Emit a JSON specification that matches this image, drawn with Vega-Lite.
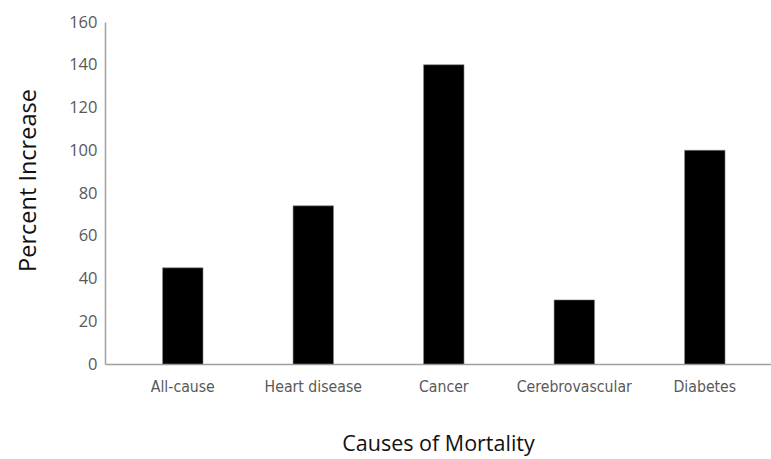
{
  "$schema": "https://vega.github.io/schema/vega-lite/v6.json",
  "autosize": "none",
  "padding": {"left": 105, "top": 22, "right": 0, "bottom": 95},
  "width": 666,
  "height": 342,
  "background": "white",
  "data": {"values": [
    {"cause": "All-cause", "pct": 45},
    {"cause": "Heart disease", "pct": 74},
    {"cause": "Cancer", "pct": 140},
    {"cause": "Cerebrovascular", "pct": 30},
    {"cause": "Diabetes", "pct": 100}
  ]},
  "mark": {"type": "bar", "color": "black", "stroke": "#888888", "strokeWidth": 0.6},
  "encoding": {
    "x": {
      "field": "cause", "type": "nominal", "sort": null,
      "scale": {"paddingInner": 0.69, "paddingOuter": 0.3966, "align": 0.556},
      "axis": {
        "title": "Causes of Mortality", "labelAngle": 0, "ticks": false,
        "domainColor": "#a0a0a0", "domainWidth": 1.5,
        "labelFont": "DejaVu Sans Condensed", "labelFontSize": 15.7, "labelColor": "#595959",
        "labelPadding": 15,
        "titleFont": "Open Sans", "titleFontSize": 21.5, "titleFontWeight": "normal", "titleColor": "#111111",
        "titlePadding": 40
      }
    },
    "y": {
      "field": "pct", "type": "quantitative",
      "scale": {"domain": [0, 160], "nice": false},
      "axis": {
        "title": "Percent Increase", "values": [0, 20, 40, 60, 80, 100, 120, 140, 160],
        "grid": false, "ticks": false,
        "domainColor": "#a0a0a0", "domainWidth": 1.5,
        "labelFont": "Open Sans", "labelFontSize": 16.5, "labelColor": "#595959",
        "labelPadding": 8,
        "titleFont": "Open Sans", "titleFontSize": 23.5, "titleFontWeight": "normal", "titleColor": "#111111",
        "titlePadding": 28, "titleY": 158
      }
    }
  },
  "config": {"view": {"stroke": null}}
}
